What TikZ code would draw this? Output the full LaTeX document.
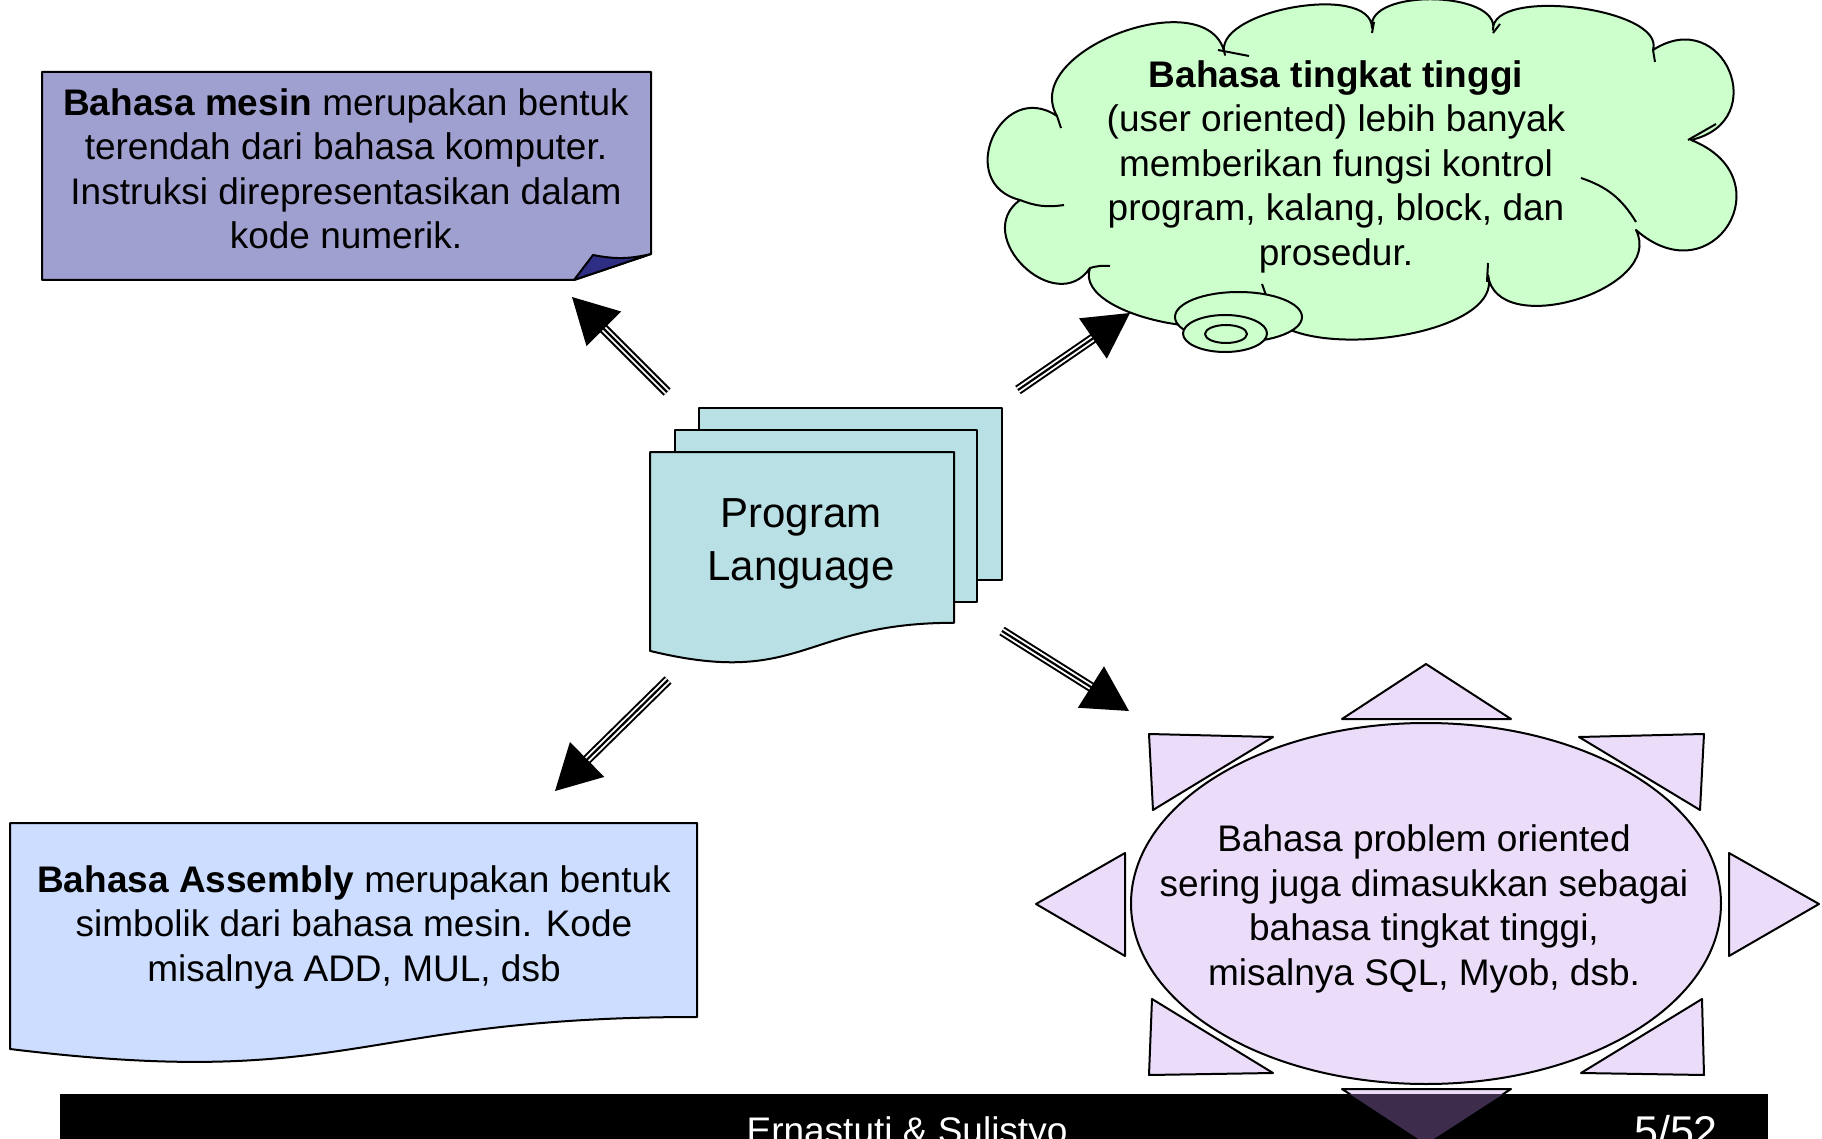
\documentclass[tikz,border=0pt]{standalone}
\usepackage{fontspec}
\setmainfont{Liberation Sans}
\usetikzlibrary{calc}

\definecolor{notefill}{HTML}{A0A0D0}
\definecolor{notefold}{HTML}{2E2E85}
\definecolor{cloudfill}{HTML}{CCFFCC}
\definecolor{docfill}{HTML}{B9E0E4}
\definecolor{asmfill}{HTML}{CCDDFF}
\definecolor{sunfill}{HTML}{EBDDFA}
\definecolor{sunshade}{HTML}{3D2C4C}

% hollow triple-stroke arrow with a solid triangular head
\newcommand\fatarrow[2]{%
  \coordinate (shaftEnd) at ($(#2)!18pt!(#1)$);
  \coordinate (headBase) at ($(#2)!22.5pt!(#1)$);
  \draw[line width=5pt] (#1) -- (shaftEnd);
  \draw[white, line width=3pt] (#1) -- (shaftEnd);
  \draw[line width=1.1pt] (#1) -- (shaftEnd);
  \fill (#2) -- ($(headBase)!12.25pt!90:(#2)$) -- ($(headBase)!12.25pt!-90:(#2)$) -- cycle;
}

\begin{document}
\begin{tikzpicture}[x=0.5pt,y=-0.5pt,
  outline/.style={draw=black, line width=1pt, line join=round},
  body/.style={font=\fontsize{18.5}{22.25}\selectfont, align=center, inner sep=0pt},
  lobe/.style={bend left=100, looseness=#1},
]
\useasboundingbox (0,0) rectangle (1822,1139);

% ---------- machine language note ----------
\draw[outline, fill=notefill] (42,72) -- (651,72) -- (651,254) -- (574,280) -- (42,280) -- cycle;
\draw[outline, fill=notefold] (574,280) -- (593,255) to[bend right=12] (651,254) -- cycle;
\node[body] (mesin) at (346,169) {\textbf{Bahasa mesin} merupakan bentuk\\terendah dari bahasa komputer.\\Instruksi direpresentasikan dalam\\kode numerik.};

% ---------- high level language cloud ----------
\draw[outline, fill=cloudfill]
  (1057,116) to[lobe=1.1] (1225,55) to[lobe=0.8] (1372,28) to[lobe=0.85] (1493,30)
  to[lobe=0.7] (1653,50) to[lobe=2.2] (1691,140) to[lobe=2.5] (1636,230)
  to[lobe=1.1] (1488,275) to[lobe=0.8] (1265,298) to[lobe=0.8] (1090,268)
  to[lobe=1.6] (1020,200) to[lobe=1.9] (1057,116) -- cycle;
\draw[outline] (1020,200) to[bend right=15] (1064,205);
\draw[outline] (1090,268) to[bend left=10] (1110,266);
\draw[outline] (1581,178) to[bend left=20] (1636,222);
\draw[outline] (1688,140) to (1716,124);
\draw[outline] (1653,50) to (1655,62);
\draw[outline] (1493,33) to (1500,24);
\draw[outline] (1372,33) to (1374,22);
\draw[outline] (1218,50) to (1249,56);
\draw[outline] (1057,116) to (1061,128);
\draw[outline] (1488,263) to (1487,282);
\draw[outline] (1262,284) to (1267,298);
\filldraw[outline, fill=cloudfill] (1238.5,317) ellipse [x radius=63.5, y radius=25];
\filldraw[outline, fill=cloudfill] (1225,333.5) ellipse [x radius=42, y radius=18.5];
\filldraw[outline, fill=cloudfill] (1226,334) ellipse [x radius=21, y radius=9];
\node[body] (tinggi) at (1336,166.5) {\textbf{Bahasa tingkat tinggi}\\(user oriented) lebih banyak\\memberikan fungsi kontrol\\program, kalang, block, dan\\prosedur.};

% ---------- program language document stack ----------
\draw[outline, fill=docfill] (699,408) rectangle (1002,580);
\draw[outline, fill=docfill] (675,430) rectangle (977,602);
\draw[outline, fill=docfill] (650,452) -- (954,452) -- (954,622.8)
  .. controls (802,622.8) and (802,687.9) .. (650,650.9) -- cycle;
\node[body, font=\fontsize{21}{26.5}\selectfont] (prog) at (801,543.5) {Program\\Language};

% ---------- assembly document ----------
\draw[outline, fill=asmfill] (10,823) -- (697,823) -- (697,1017)
  .. controls (353.5,1017) and (353.5,1091) .. (10,1049) -- cycle;
\node[body] (asm) at (354,927) {\textbf{Bahasa Assembly} merupakan bentuk\\simbolik dari bahasa mesin. Kode\\misalnya ADD, MUL, dsb};

% ---------- problem oriented sun ----------
\begin{scope}[outline, fill=sunfill]
  \filldraw (1426,903.5) ellipse [x radius=295, y radius=180.5];
  \filldraw (1342,719) -- (1511,719) -- (1426,664) -- cycle;
  \filldraw (1149,734) -- (1273,737) -- (1153,810) -- cycle;
  \filldraw (1579,737) -- (1704,734) -- (1700,810) -- cycle;
  \filldraw (1125,853) -- (1125,956) -- (1036,904) -- cycle;
  \filldraw (1729,853) -- (1729,956) -- (1819,904) -- cycle;
  \filldraw (1152,999) -- (1273,1073) -- (1149,1075) -- cycle;
  \filldraw (1702,999) -- (1581,1073) -- (1704,1075) -- cycle;
  \filldraw (1342,1089) -- (1511,1089) -- (1426,1144) -- cycle;
\end{scope}
\node[body] (problem) at (1424,909) {Bahasa problem oriented\\sering juga dimasukkan sebagai\\bahasa tingkat tinggi,\\misalnya SQL, Myob, dsb.};

% ---------- arrows ----------
\coordinate (aTail) at (667,392);  \coordinate (aTip) at (572,297);
\coordinate (bTail) at (1018,390); \coordinate (bTip) at (1130,313);
\coordinate (cTail) at (668,680);  \coordinate (cTip) at (555,791);
\coordinate (dTail) at (1002,631); \coordinate (dTip) at (1129,711);
\fatarrow{aTail}{aTip}
\fatarrow{bTail}{bTip}
\fatarrow{cTail}{cTip}
\fatarrow{dTail}{dTip}

% ---------- footer bar ----------
\fill[black] (60,1094) rectangle (1768,1150);
\begin{scope}
  \clip (60,1094) rectangle (1768,1150);
  \fill[sunshade] (1342,1089) -- (1511,1089) -- (1426,1144) -- cycle;
\end{scope}
\node[white, anchor=base, inner sep=0pt, font=\fontsize{18.5}{22}\selectfont] (author) at (907,1143.5) {Ernastuti \& Sulistyo};
\node[white, anchor=base, inner sep=0pt, font=\fontsize{21.5}{22}\selectfont] (page) at (1676,1146) {5/52};
\end{tikzpicture}
\end{document}
